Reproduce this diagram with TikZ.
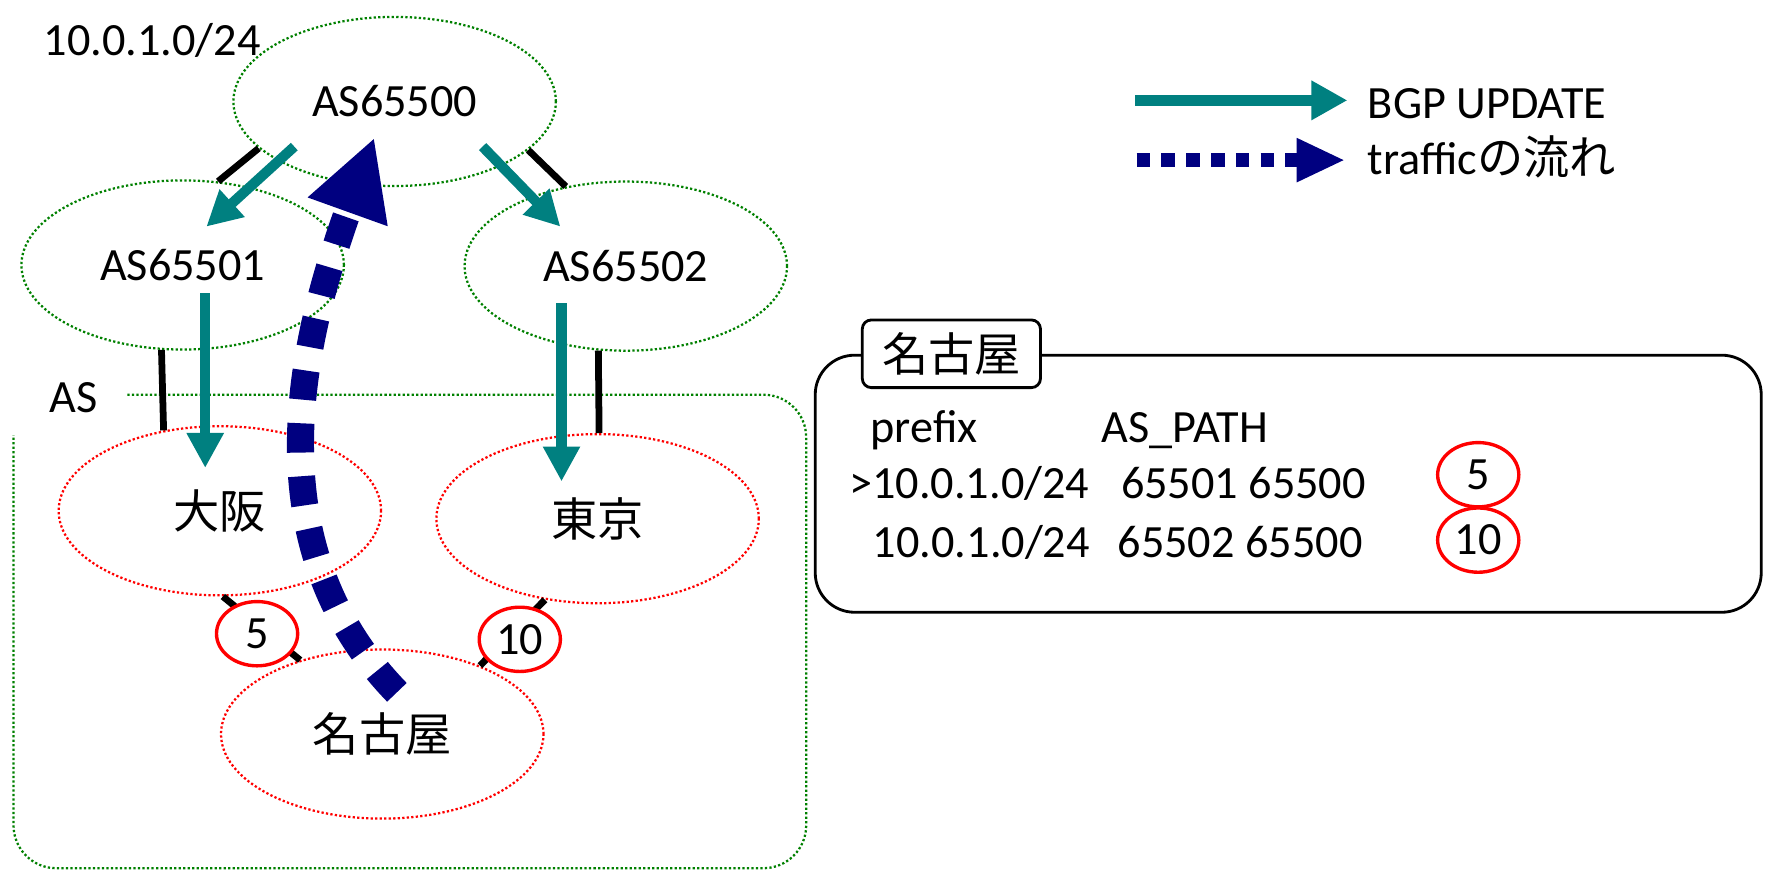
\documentclass[tikz,border=0pt]{standalone}
\usepackage{fontspec}
\setmainfont{Carlito}
\newfontfamily\jp{Noto Sans CJK JP}
\usetikzlibrary{shapes.geometric,arrows.meta,calc}
\definecolor{asgreen}{RGB}{0,128,0}
\definecolor{bgpteal}{RGB}{0,128,128}
\definecolor{trafnavy}{RGB}{0,0,128}
\tikzset{
  asnode/.style={
    shape = ellipse,
    draw = asgreen,
    dotted,
    line width = 2pt,
    inner sep = 0pt,
    minimum width = 286pt,
    minimum height = 150pt
  },
  rtnode/.style={
    asnode,
    draw = red
  },
  cost/.style={
    shape = ellipse,
    draw = red,
    fill = white,
    line width = 3pt,
    inner sep = 0pt,
    minimum width = 72pt,
    minimum height = 57pt
  },
  txt/.style={
    inner sep = 0pt
  },
  peerlink/.style={
    line width = 6pt,
    black
  },
  bgparrow/.style={
    draw = bgpteal,
    line width = 9pt,
    -{Triangle[length=31pt,width=31pt]}
  },
  trafarrow/.style={
    draw = trafnavy,
    line width = 24pt,
    dash pattern = on 26pt off 21pt,
    -{Triangle[length=70pt,width=70pt]}
  }
}

\begin{document}
\begin{tikzpicture}[x=1pt,y=-1pt,font=\fontsize{41}{49}\selectfont]
  \useasboundingbox (0,0) rectangle (1568,772);
  % AS region
  \node[txt] (aslabel) at (65,353) {AS};
  \draw[asgreen,dotted,line width=2pt,rounded corners=38pt]
    (113,350) -- (715,350) -- (715,770) -- (12,770) -- (12,386);
  % ASes and routers
  \node[asnode] (as0) at (350,90) {AS65500};
  \node[asnode] (as1) at (162,235) {AS65501};
  \node[asnode] (as2) at (555,236) {AS65502};
  \node[txt,anchor=base] (pfx) at (135,49) {10.0.1.0/24};
  \node[rtnode] (osaka) at (195,453) {\jp 大阪};
  \node[rtnode] (tokyo) at (530,460) {\jp 東京};
  \node[rtnode] (nagoya) at (339,651) {\jp 名古屋};
  % links
  \draw[peerlink] (as1.67) -- (as0.199);
  \draw[peerlink] (as0.340) -- (as2.127);
  \draw[peerlink] (as1.256) -- (osaka.125);
  \draw[peerlink] (as2.252) -- (tokyo.89);
  \draw[peerlink] (osaka.272) -- (nagoya.138);
  \draw[peerlink] (tokyo.237) -- (nagoya.35);
  \node[cost] (c5) at (228,562) {5};
  \node[cost] (c10) at (461,567) {10};
  % updates
  \draw[bgparrow] ($(as0)+(-89,40)$) -- ($(as1)+(21,-34)$);
  \draw[bgparrow] ($(as0)+(78,40)$) -- ($(as2)+(-58,-35)$);
  \draw[bgparrow] ($(as1)+(20,25)$) -- ($(osaka)+(-13,-38)$);
  \draw[bgparrow] ($(as2)+(-57,33)$) -- ($(tokyo)+(-32,-33)$);
  % traffic
  \draw[trafarrow] ($(nagoya)+(13,-37)$) .. controls (222,480) and (268,300) .. ($(as0)+(-18,32)$);
  % legend
  \coordinate (lg1s) at (1007,89);
  \coordinate (lg1e) at (1195,89);
  \coordinate (lg2s) at (1008,142);
  \coordinate (lg2e) at (1193,142);
  \draw[bgparrow,line width=10pt,-{Triangle[length=32pt,width=33pt]}] (lg1s) -- (lg1e);
  \node[txt,anchor=base west] (lgt1) at (1213,105) {BGP UPDATE};
  \draw[trafarrow,line width=12pt,dash pattern=on 12pt off 10pt,-{Triangle[length=43pt,width=36pt]}] (lg2s) -- (lg2e);
  \node[txt,anchor=base west] (lgt2) at (1213,155) {traffic{\jp の流れ}};
  % rib of nagoya
  \node[draw,line width=2.5pt,rounded corners=35pt,minimum width=839pt,minimum height=228pt,inner sep=0pt] (rib) at (1142.5,429) {};
  \node[draw,fill=white,line width=2.5pt,rounded corners=8pt,minimum width=158pt,minimum height=60pt,inner sep=0pt] (ribtab) at ($(rib.north west)+(122,0)$) {\jp 名古屋};
  \node[txt,anchor=base west] (hpfx) at (772,392) {prefix};
  \node[txt,anchor=base west] (hpath) at (977,392) {AS\_PATH};
  \node[txt,anchor=base west] (r1pfx) at (753,442) {>10.0.1.0/24};
  \node[txt,anchor=base west] (r1path) at (994,442) {65501 65500};
  \node[txt,anchor=base west] (r2pfx) at (774,494) {10.0.1.0/24};
  \node[txt,anchor=base west] (r2path) at (991,494) {65502 65500};
  \node[cost] (r1cost) at (1311,421) {5};
  \node[cost] (r2cost) at (1311,479) {10};
\end{tikzpicture}
\end{document}
